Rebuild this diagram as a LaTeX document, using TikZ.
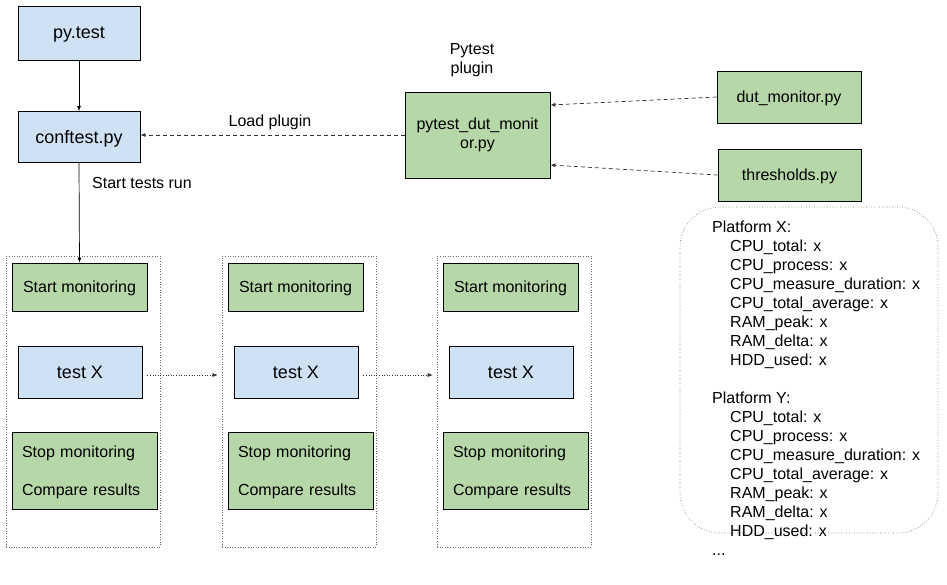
\documentclass[tikz,border=0pt]{standalone}
\usepackage{fontspec}
\setmainfont{Liberation Sans}
\usetikzlibrary{arrows.meta}
\definecolor{bluefill}{HTML}{CFE2F3}
\definecolor{greenfill}{HTML}{B6D7A8}
\definecolor{linegray}{HTML}{333333}
\begin{document}
\begin{tikzpicture}[x=1pt,y=-1pt,
  box/.style={draw=black, line width=0.8pt, inner sep=0pt, anchor=center, align=center},
  oneline/.style={text depth=0pt},
  bluebox/.style={box, fill=bluefill},
  greenbox/.style={box, fill=greenfill},
  bigtext/.style={font=\fontsize{18}{21}\selectfont},
  smalltext/.style={font=\fontsize{16}{19}\selectfont},
  container/.style={draw=black!60, dotted, line width=0.6pt, inner sep=0pt, anchor=center},
  solidarrow/.style={-{Latex[length=5pt,width=4pt]}, line width=0.7pt, draw=black},
  dasharrow/.style={-{Latex[length=5pt,width=4pt]}, dash pattern=on 4pt off 3pt, line width=0.7pt, draw=linegray},
  dotarrow/.style={-{Latex[length=5pt,width=4pt]}, dotted, line width=0.6pt, draw=linegray},
  sctext/.style={greenbox, align=left, inner xsep=10pt, inner ysep=0pt, text width=125pt, minimum height=77pt, font=\fontsize{16}{38}\selectfont}
]
\useasboundingbox (0,0) rectangle (947,584);

% top left
\node[bluebox, oneline, bigtext, minimum width=122pt, minimum height=54pt] (pytest) at (79,33) {py.test};
\node[bluebox, oneline, bigtext, minimum width=122pt, minimum height=51pt] (conf) at (79,137) {conftest.py};

% plugin
\node[smalltext, align=center] (pluglabel) at (472,60) {Pytest\\plugin};
\node[greenbox, smalltext, minimum width=145pt, minimum height=86pt] (plugin) at (477.5,135) {pytest\_dut\_monit\\or.py};
\node[greenbox, oneline, smalltext, minimum width=144pt, minimum height=52pt] (dut) at (789,97) {dut\_monitor.py};
\node[greenbox, oneline, smalltext, minimum width=143pt, minimum height=52pt] (thr) at (789.5,175) {thresholds.py};

% labels
\node[smalltext] (loadlbl) at (270,122) {Load plugin};
\node[smalltext, anchor=west, inner sep=0pt] (startlbl) at (92,183) {Start tests run};

% columns
\foreach \i/\dx in {1/0,2/216,3/431} {
  \node[container, minimum width=154pt, minimum height=291pt] (c\i) at (83+\dx,401.5) {};
  \node[greenbox, oneline, smalltext, minimum width=135pt, minimum height=48pt] (sm\i) at (79.5+\dx,287) {Start monitoring};
  \node[bluebox, oneline, bigtext, minimum width=124pt, minimum height=52pt] (t\i) at (80+\dx,372) {test X};
  \node[sctext] (sc\i) at (84.5+\dx,470.5) {\rule{0pt}{15.5pt}Stop monitoring\\Compare results};
}

% platform box
\node[container, rounded corners=40pt, minimum width=258pt, minimum height=326pt] (plat) at (809,370) {};
\node[smalltext, align=left, anchor=north west, inner sep=0pt] (plattext) at (712,221) {%
Platform X:\\
\hspace*{18pt}CPU\_total: x\\
\hspace*{18pt}CPU\_process: x\\
\hspace*{18pt}CPU\_measure\_duration: x\\
\hspace*{18pt}CPU\_total\_average: x\\
\hspace*{18pt}RAM\_peak: x\\
\hspace*{18pt}RAM\_delta: x\\
\hspace*{18pt}HDD\_used: x\\[19pt]
Platform Y:\\
\hspace*{18pt}CPU\_total: x\\
\hspace*{18pt}CPU\_process: x\\
\hspace*{18pt}CPU\_measure\_duration: x\\
\hspace*{18pt}CPU\_total\_average: x\\
\hspace*{18pt}RAM\_peak: x\\
\hspace*{18pt}RAM\_delta: x\\
\hspace*{18pt}HDD\_used: x\\
...};

% connectors
\draw[solidarrow] (pytest.south) -- (conf.north);
\draw[solidarrow] (conf.south) -- (sm1.north);
\draw[dasharrow] (plugin.west) -- (plugin.west -| conf.east);
\draw[dasharrow] (dut.west) -- ([yshift=30pt]plugin.east);
\draw[dasharrow] (thr.west) -- ([yshift=-30pt]plugin.east);
\draw[dotarrow, shorten <=5pt, shorten >=4pt] ([yshift=-3pt]t1.east) -- ([yshift=-3pt]t1.east -| c2.west);
\draw[dotarrow, shorten <=5pt, shorten >=4pt] ([yshift=-3pt]t2.east) -- ([yshift=-3pt]t2.east -| c3.west);
\end{tikzpicture}
\end{document}
